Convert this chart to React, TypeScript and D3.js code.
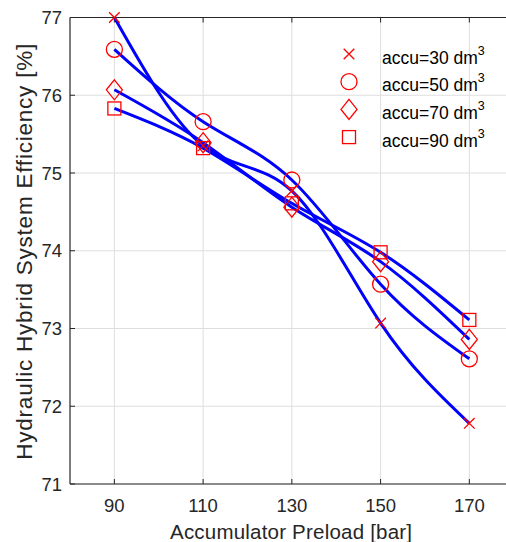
import React from 'react'
import * as d3 from 'd3'

const preload = [90, 110, 130, 150, 170]
const accu30 = [77.0, 75.35, 74.77, 73.07, 71.78]
const accu50 = [76.59, 75.66, 74.91, 73.57, 72.61]
const accu70 = [76.07, 75.39, 74.56, 73.86, 72.86]
const accu90 = [75.83, 75.32, 74.61, 73.98, 73.11]
const seriesNames = ['accu=30 dm', 'accu=50 dm', 'accu=70 dm', 'accu=90 dm']
const markers = ['cross', 'circle', 'diamond', 'square']
const xTicks = [90, 110, 130, 150, 170]
const yTicks = [71, 72, 73, 74, 75, 76, 77]

const W = 506
const H = 542
const font = '"Liberation Sans", Arial, Helvetica, sans-serif'
const axisColor = '#262626'

const x = d3.scaleLinear().domain([80, 180]).range([70, 513.7])
const y = d3.scaleLinear().domain([71, 77]).range([484, 17.5])

const Marker = ({ kind, cx, cy }) => {
  const s = { fill: 'none', stroke: '#ff0000', strokeWidth: 1.3 }
  if (kind === 'cross')
    return <path d={`M${cx - 5.3},${cy - 5.3}L${cx + 5.3},${cy + 5.3}M${cx - 5.3},${cy + 5.3}L${cx + 5.3},${cy - 5.3}`} {...s} />
  if (kind === 'circle') return <circle cx={cx} cy={cy} r={8} {...s} />
  if (kind === 'diamond')
    return <path d={`M${cx},${cy - 10}L${cx + 8},${cy}L${cx},${cy + 10}L${cx - 8},${cy}Z`} {...s} />
  return <rect x={cx - 6.5} y={cy - 6.5} width={13} height={13} {...s} />
}

const App = () => {
  const series = [accu30, accu50, accu70, accu90]
  const line = d3
    .line<number>()
    .x((d, i) => x(preload[i]))
    .y(d => y(d))
    .curve(d3.curveNatural)
  const [x0, x1] = x.range()
  const [yb, yt] = y.range()

  return (
    <svg width={W} height={H} style={{ position: 'absolute', left: 0, top: 0, background: '#fff' }} fontFamily={font}>
      <rect width={W} height={H} fill="#fff" />
      {/* grid */}
      {xTicks.map(t => (
        <line key={'gx' + t} x1={x(t)} x2={x(t)} y1={yb} y2={yt} stroke="#dedede" strokeWidth={1} />
      ))}
      {yTicks.map(t => (
        <line key={'gy' + t} x1={x0} x2={x1} y1={y(t)} y2={y(t)} stroke="#dedede" strokeWidth={1} />
      ))}
      {/* axes box */}
      <line x1={x0} x2={x1} y1={yb} y2={yb} stroke={axisColor} strokeWidth={1.2} />
      <line x1={x0} x2={x1} y1={yt} y2={yt} stroke={axisColor} strokeWidth={1.2} />
      <line x1={x0} x2={x0} y1={yt} y2={yb} stroke={axisColor} strokeWidth={1.2} />
      {xTicks.map(t => (
        <g key={'tx' + t}>
          <line x1={x(t)} x2={x(t)} y1={yb} y2={yb - 5} stroke={axisColor} />
          <line x1={x(t)} x2={x(t)} y1={yt} y2={yt + 5} stroke={axisColor} />
          <text x={x(t)} y={511.5} textAnchor="middle" fontSize={18.5} fill={axisColor}>
            {t}
          </text>
        </g>
      ))}
      {yTicks.map(t => (
        <g key={'ty' + t}>
          <line x1={x0} x2={x0 + 5} y1={y(t)} y2={y(t)} stroke={axisColor} />
          <text x={62} y={y(t) + 6.7} textAnchor="end" fontSize={18.5} fill={axisColor}>
            {t}
          </text>
        </g>
      ))}
      <text x={291} y={538.5} textAnchor="middle" fontSize={20.5} textLength={242} lengthAdjust="spacing" fill={axisColor}>
        Accumulator Preload [bar]
      </text>
      <text
        transform={`translate(32,${(yb + yt) / 2 + 1}) rotate(-90)`}
        textAnchor="middle"
        fontSize={22.5}
        textLength={416}
        lengthAdjust="spacing"
        fill={axisColor}
      >
        Hydraulic Hybrid System Efficiency [%]
      </text>
      {/* curves */}
      {series.map((s, i) => (
        <path key={'l' + i} d={line(s)} fill="none" stroke="#0000ff" strokeWidth={3} />
      ))}
      {series.map((s, i) =>
        s.map((v, j) => <Marker key={`m${i}-${j}`} kind={markers[i]} cx={x(preload[j])} cy={y(v)} />),
      )}
      {/* legend */}
      {seriesNames.map((n, i) => (
        <g key={'lg' + i}>
          <Marker kind={markers[i]} cx={349} cy={54 + i * 27.7} />
          <text x={382} y={63.5 + i * 27.7} fontSize={17.5} fill="#000">
            {n}
            <tspan fontSize={12.5} dy={-9}>
              3
            </tspan>
          </text>
        </g>
      ))}
    </svg>
  )
}

export default App
